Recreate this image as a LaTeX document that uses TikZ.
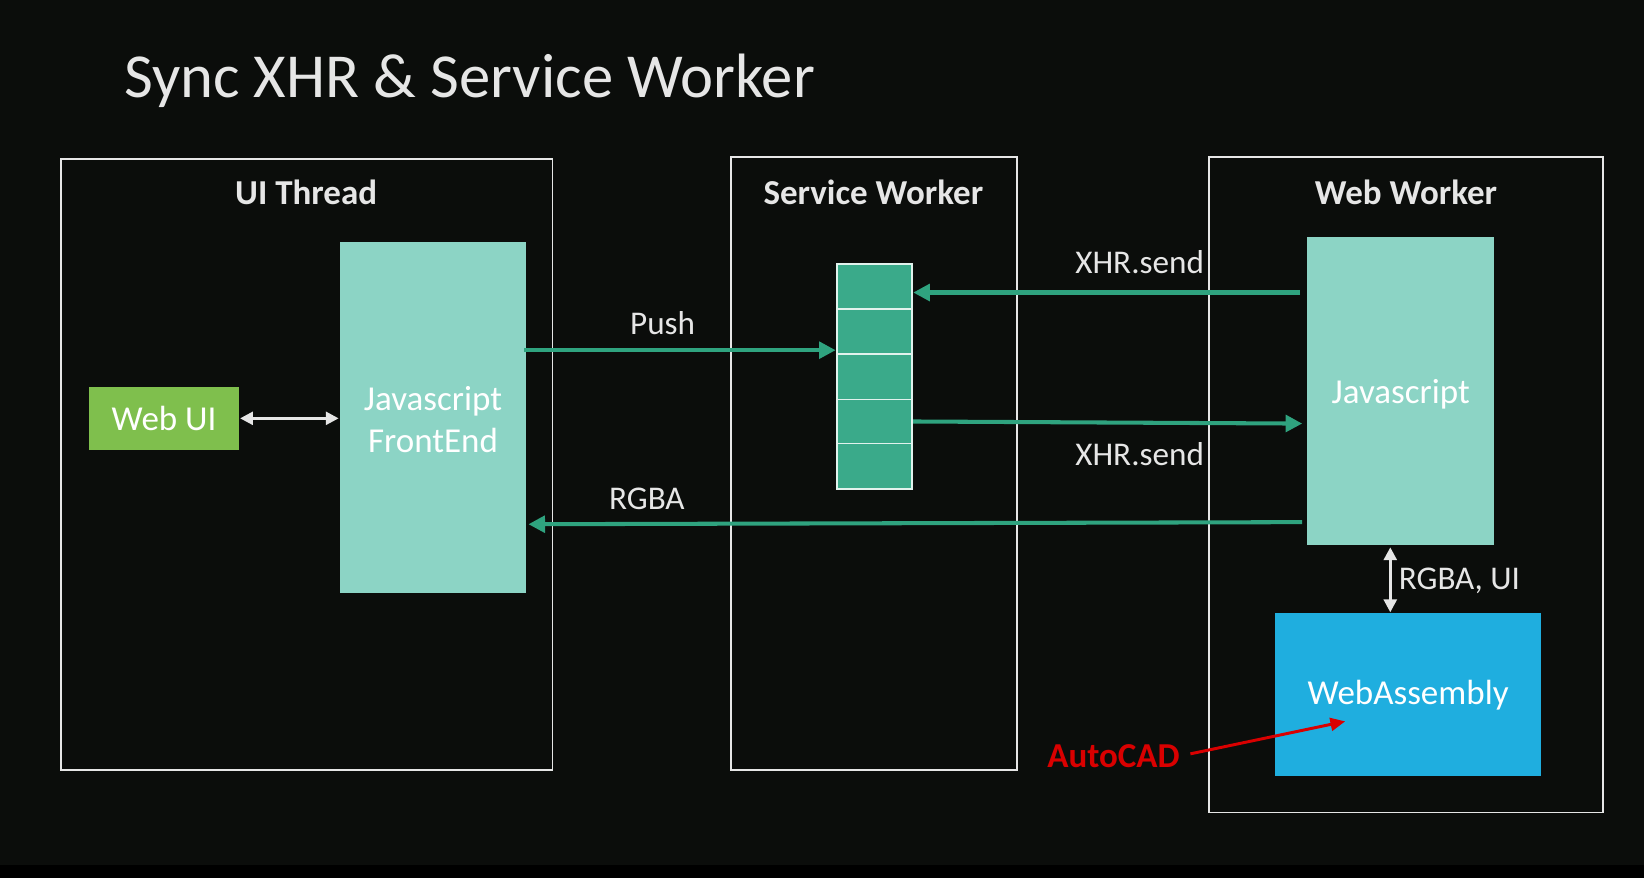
\documentclass[tikz,border=0pt]{standalone}
\usepackage{fontspec}
\setmainfont{Carlito}
\usetikzlibrary{arrows.meta}
\definecolor{bg}{HTML}{0B0D0B}
\definecolor{tealL}{HTML}{8CD4C5}
\definecolor{tealD}{HTML}{3AAA8A}
\definecolor{arr}{HTML}{2FA37F}
\definecolor{webui}{HTML}{7FBF4D}
\definecolor{wasm}{HTML}{1FAEDF}
\definecolor{tx}{HTML}{E6E6E6}
\begin{document}
\begin{tikzpicture}[x=0.02cm,y=-0.02cm,
  frame/.style={draw=tx,line width=1pt},
  hdr/.style={text=tx,font=\fontsize{19}{21}\selectfont\bfseries},
  lbl/.style={text=tx,font=\fontsize{18}{20}\selectfont},
  box/.style={text=white,font=\fontsize{19}{23}\selectfont,align=center},
  garr/.style={draw=arr,line width=2.2pt,-{Triangle[length=9pt,width=9pt]}},
  warr/.style={draw=tx,line width=1.6pt,{Triangle[length=7pt,width=7pt]}-{Triangle[length=7pt,width=7pt]}}]
\fill[bg] (0,0) rectangle (1568,837);
\fill[black] (0,825) rectangle (1568,837);
\useasboundingbox (0,0) rectangle (1568,837);
\node[anchor=base west,text=tx,font=\fontsize{34}{38}\selectfont,inner sep=0] (title) at (118,93) {Sync XHR \& Service Worker};
% frames
\draw[frame] (58,152) rectangle (527,734);
\draw[frame] (697,150) rectangle (970,734);
\draw[frame] (1153,150) rectangle (1529,775);
\node[hdr] (h1) at (292,183) {UI Thread};
\node[hdr] (h2) at (833,183) {Service Worker};
\node[hdr] (h3) at (1341,183) {Web Worker};
% boxes
\fill[webui] (85,369) rectangle (228,429);
\node[box] (webui) at (156.5,399) {Web UI};
\fill[tealL] (324,231) rectangle (502,566);
\node[box] (jsfe) at (413,400) {Javascript\\FrontEnd};
\fill[tealL] (1247,226) rectangle (1425,520);
\node[box] (jsww) at (1336,376) {Javascript};
\fill[wasm] (1216,585) rectangle (1470,740);
\node[box] (wasm) at (1343,663) {WebAssembly};
% queue
\fill[tealD] (798,252) rectangle (870,466);
\foreach \y in {295,338,381,423} \draw[white!85!tealD,line width=1pt] (798,\y) -- (870,\y);
\draw[white!85!tealD,line width=1pt] (798,252) rectangle (870,466);
\coordinate (q) at (834,359);
% arrows
\coordinate (p1) at (500,334); \coordinate (p2) at (797,334);
\draw[garr] (p1) -- (p2);
\node[lbl] (push) at (632,308) {Push};
\coordinate (x1) at (1240,279); \coordinate (x2) at (871,279);
\draw[garr] (x1) -- (x2);
\node[lbl] (xs1) at (1087,250) {XHR.send};
\coordinate (y1) at (871,402); \coordinate (y2) at (1242,404);
\draw[garr] (y1) -- (y2);
\node[lbl] (xs2) at (1087,433) {XHR.send};
\coordinate (r1) at (1242,498); \coordinate (r2) at (504,500);
\draw[garr] (r1) -- (r2);
\node[lbl] (rgba) at (617,476) {RGBA};
\coordinate (w1) at (229,399); \coordinate (w2) at (323,399);
\draw[warr] (w1) -- (w2);
\coordinate (v1) at (1326,522); \coordinate (v2) at (1326,584);
\draw[warr] (v1) -- (v2);
\node[lbl,anchor=west] (rui) at (1328,554) {RGBA, UI};
% AutoCAD
\node[text=red!85!black,font=\fontsize{19}{21}\selectfont\bfseries] (acad) at (1062,721) {AutoCAD};
\coordinate (a2) at (1283,688);
\draw[red!85!black,line width=1.6pt,-{Triangle[length=8pt,width=7pt]}] (acad.east) ++(4,-2) -- (a2);
\end{tikzpicture}
\end{document}
